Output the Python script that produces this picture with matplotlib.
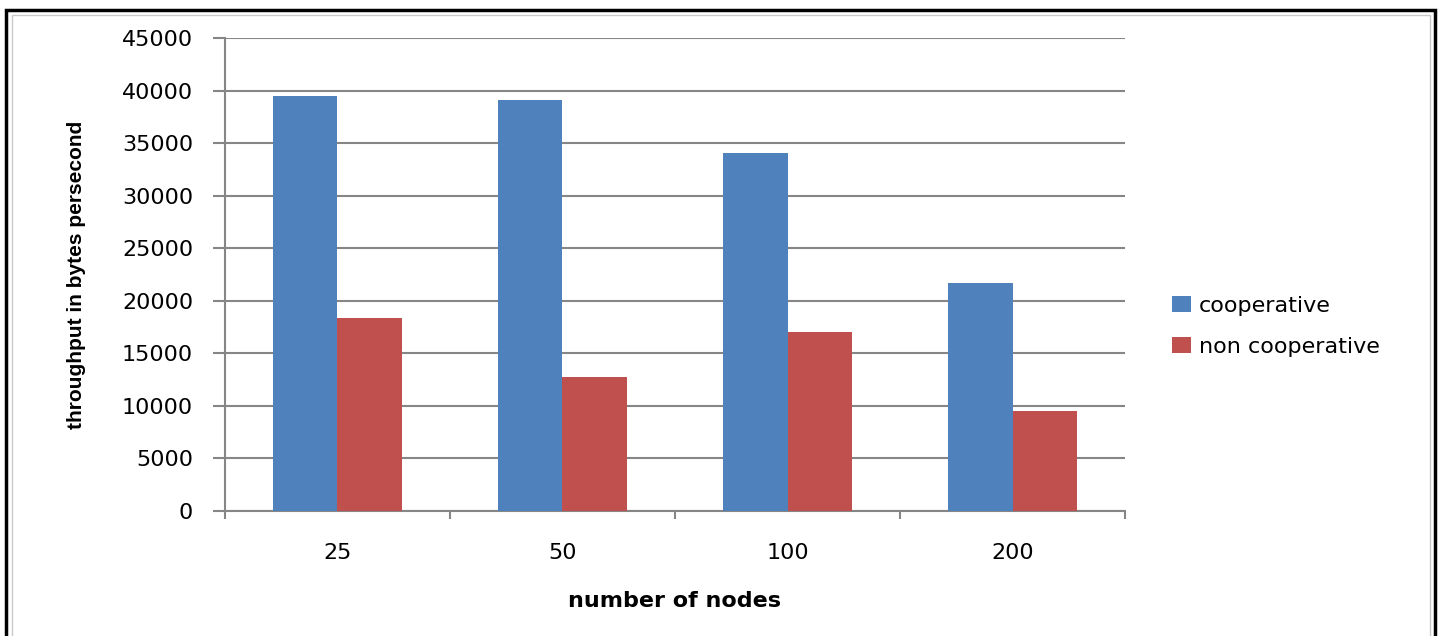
import numpy as np
import matplotlib.pyplot as plt
from matplotlib.patches import Rectangle

nodes = ["25", "50", "100", "200"]
cooperative = [39500, 39100, 34100, 21700]
non_cooperative = [18400, 12800, 17000, 9500]

grey = "#868686"
fig = plt.figure(figsize=(14.44, 6.36), dpi=100)
ax = fig.add_axes([0.1558, 0.1965, 0.6233, 0.7435])

x = np.arange(len(nodes))
w = 1 / 3.5
ax.bar(x - w / 2, cooperative, w, color="#4F81BD", label="cooperative", zorder=3)
ax.bar(x + w / 2, non_cooperative, w, color="#C0504D", label="non cooperative", zorder=3)

ax.set_xlim(-0.5, len(nodes) - 0.5)
ax.set_ylim(0, 45000)
ax.set_yticks(np.arange(0, 45001, 5000))
ax.yaxis.grid(True, color=grey, linewidth=1.5, zorder=0)
ax.set_xticks(x)
ax.set_xticklabels(nodes)
ax.set_xticks(np.arange(-0.5, len(nodes)), minor=True)
ax.tick_params(axis="x", which="major", length=0, pad=23, labelsize=16)
ax.tick_params(axis="x", which="minor", length=6, width=1.5, color=grey, direction="out")
ax.tick_params(axis="y", length=9, width=1.5, color=grey, pad=14, labelsize=16)
for s in ["top", "right"]:
    ax.spines[s].set_visible(False)
for s in ["left", "bottom"]:
    ax.spines[s].set_color(grey)
    ax.spines[s].set_linewidth(1.5)

ax.set_xlabel("number of nodes", fontsize=16, fontweight="bold", labelpad=20)
ax.set_ylabel("throughput in bytes persecond", fontsize=15, fontweight="bold",
              family=["Liberation Sans", "DejaVu Sans"], labelpad=26)

fig.legend(loc="center left", bbox_to_anchor=(0.798, 0.487), frameon=False,
           fontsize=16, handlelength=0.85, handleheight=0.7, handletextpad=0.35,
           labelspacing=0.95)

# outer frame
fig.patches.append(Rectangle((0.004, -0.02), 0.99, 1.005, transform=fig.transFigure,
                             fill=False, edgecolor="black", linewidth=2.5))
fig.patches.append(Rectangle((0.008, -0.02), 0.982, 0.997, transform=fig.transFigure,
                             fill=False, edgecolor="#c8c8c8", linewidth=1))

fig.savefig("out.png", dpi=100)
